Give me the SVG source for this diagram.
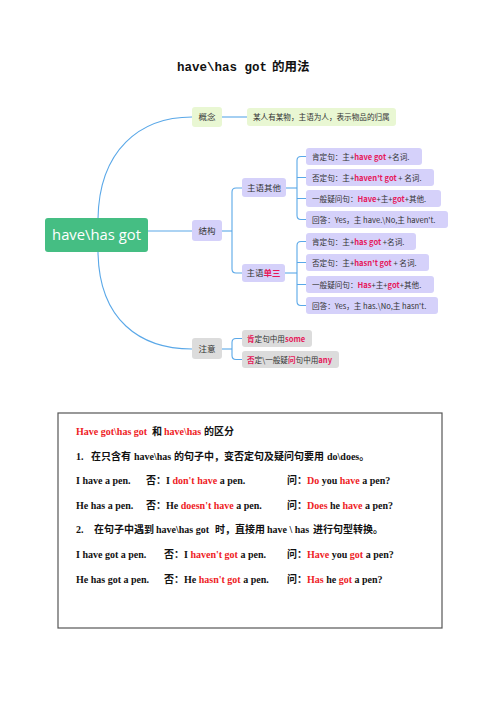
<svg xmlns="http://www.w3.org/2000/svg" width="496" height="702" viewBox="0 0 496 702">
<style>
.mm{font-family:"Noto Sans CJK SC","Noto Sans",sans-serif;fill:#333;}
.n{font-size:8.5px;}
.i{font-size:7.6px;}
.r{fill:#E6185A;font-weight:bold;}
.g{fill:#E9F7D3;}
.p{fill:#D5D1FA;}
.gr{fill:#DCDCDC;}
.con{fill:none;stroke:#5AA8E8;stroke-width:1.1;}
.bx{font-family:"Liberation Serif","Noto Sans CJK SC",serif;font-weight:bold;font-size:10px;fill:#111;}
.red{fill:#EE1C25;}
</style>
<rect width="496" height="702" fill="#fff"/>
<text x="177" y="71" font-family="Liberation Mono,'Noto Sans CJK SC',monospace" font-weight="bold" font-size="12.5" fill="#111">have\has got<tspan font-family="'Noto Sans CJK SC',sans-serif" dx="5">的用法</tspan></text>

<g id="connectors">
<path class="con" d="M98,219 C99,150 140,117 192,117"/>
<path class="con" d="M98,252 C99,320 140,349 192,349"/>
<path class="con" d="M148,231 H192"/>
<path class="con" d="M222,117 H247"/>
<path class="con" d="M222,231 H232"/>
<path class="con" d="M242,188 H236 Q232,188 232,192 V269 Q232,273 236,273 H242"/>
<path class="con" d="M286,188 H297"/>
<path class="con" d="M306,156.5 H301 Q297,156.5 297,160.5 V215.5 Q297,219.5 301,219.5 H306"/>
<path class="con" d="M297,177.5 H306 M297,198.5 H306"/>
<path class="con" d="M285,273 H297"/>
<path class="con" d="M306,241.5 H301 Q297,241.5 297,245.5 V301.5 Q297,305.5 301,305.5 H306"/>
<path class="con" d="M297,262.5 H306 M297,284.5 H306"/>
<path class="con" d="M222,349 H232"/>
<path class="con" d="M242,338.5 H236 Q232,338.5 232,342.5 V355.5 Q232,359.5 236,359.5 H242"/>
</g>

<g id="root">
<rect x="45" y="218" width="103" height="34" rx="3" fill="#45BE83"/>
<text x="96.5" y="240" text-anchor="middle" font-family="'Open Sans','Noto Sans',sans-serif" font-size="14.8" fill="#fff">have\has got</text>
</g>

<g id="gainian" class="mm">
<rect class="g" x="192" y="107" width="30" height="20" rx="3"/>
<text class="n" x="207" y="120" text-anchor="middle">概念</text>
</g>
<g id="gainian-desc" class="mm">
<rect class="g" x="247" y="108" width="149" height="18" rx="3"/>
<text class="i" x="253" y="120">某人有某物，主语为人，表示物品的归属</text>
</g>

<g id="jiegou" class="mm">
<rect class="p" x="192" y="220" width="30" height="21" rx="3"/>
<text class="n" x="207" y="233.5" text-anchor="middle">结构</text>
</g>

<g id="zhuyu-qita" class="mm">
<rect class="p" x="242" y="178" width="44" height="19" rx="3"/>
<text class="n" x="264" y="190.5" text-anchor="middle">主语其他</text>
</g>
<g id="qita-1" class="mm">
<rect class="p" x="306" y="148" width="116" height="17" rx="3"/>
<text class="i" x="312" y="159.5">肯定句：主+<tspan class="r">have got</tspan> +名词.</text>
</g>
<g id="qita-2" class="mm">
<rect class="p" x="306" y="169" width="128" height="17" rx="3"/>
<text class="i" x="312" y="180.5">否定句：主+<tspan class="r">haven't got</tspan> + 名词.</text>
</g>
<g id="qita-3" class="mm">
<rect class="p" x="306" y="190" width="135" height="17" rx="3"/>
<text class="i" x="312" y="201.5">一般疑问句：<tspan class="r">Have</tspan>+主+<tspan class="r">got</tspan>+其他.</text>
</g>
<g id="qita-4" class="mm">
<rect class="p" x="306" y="211" width="142" height="17" rx="3"/>
<text class="i" x="312" y="222.5">回答：Yes，主 have.\No,主 haven't.</text>
</g>

<g id="zhuyu-dansan" class="mm">
<rect class="p" x="242" y="264" width="43" height="18" rx="3"/>
<text class="n" x="263.5" y="276" text-anchor="middle">主语<tspan class="r">单三</tspan></text>
</g>
<g id="dansan-1" class="mm">
<rect class="p" x="306" y="233" width="110" height="17" rx="3"/>
<text class="i" x="312" y="244.5">肯定句：主+<tspan class="r">has got</tspan> +名词.</text>
</g>
<g id="dansan-2" class="mm">
<rect class="p" x="306" y="254" width="123" height="17" rx="3"/>
<text class="i" x="312" y="265.5">否定句：主+<tspan class="r">hasn't got</tspan> + 名词.</text>
</g>
<g id="dansan-3" class="mm">
<rect class="p" x="306" y="276" width="128" height="17" rx="3"/>
<text class="i" x="312" y="287.5">一般疑问句：<tspan class="r">Has</tspan>+主+<tspan class="r">got</tspan>+其他.</text>
</g>
<g id="dansan-4" class="mm">
<rect class="p" x="306" y="297" width="132" height="17" rx="3"/>
<text class="i" x="312" y="308.5">回答：Yes，主 has.\No,主 hasn't.</text>
</g>

<g id="zhuyi" class="mm">
<rect class="gr" x="192" y="338" width="30" height="21" rx="3"/>
<text class="n" x="207" y="351.5" text-anchor="middle">注意</text>
</g>
<g id="zhuyi-1" class="mm">
<rect class="gr" x="242" y="330" width="70" height="17" rx="3"/>
<text class="i" x="247" y="341.5"><tspan class="r">肯</tspan>定句中用<tspan class="r">some</tspan></text>
</g>
<g id="zhuyi-2" class="mm">
<rect class="gr" x="242" y="351" width="97" height="17" rx="3"/>
<text class="i" x="247" y="362.5"><tspan class="r">否</tspan>定\一般疑<tspan class="r">问</tspan>句中用<tspan class="r">any</tspan></text>
</g>

<g id="notes">
<rect x="58" y="413" width="384" height="215" fill="#fff" stroke="#555" stroke-width="1.2"/>
<text class="bx" y="435"><tspan x="76" class="red">Have got\has got</tspan><tspan x="152">和</tspan><tspan x="164" class="red">have\has</tspan><tspan x="204">的区分</tspan></text>
<text class="bx" y="460"><tspan x="76">1.</tspan><tspan x="91">在只含有</tspan><tspan x="134">have\has</tspan><tspan x="174">的句子中，变否定句及疑问句要用</tspan><tspan x="327">do\does。</tspan></text>
<text class="bx" y="484"><tspan x="76">I have a pen.</tspan><tspan x="146">否：I </tspan><tspan class="red">don't have</tspan><tspan> a pen.</tspan><tspan x="287">问：</tspan><tspan class="red">Do</tspan><tspan> you </tspan><tspan class="red">have</tspan><tspan> a pen?</tspan></text>
<text class="bx" y="509"><tspan x="76">He has a pen.</tspan><tspan x="146">否：He </tspan><tspan class="red">doesn't have</tspan><tspan> a pen.</tspan><tspan x="287">问：</tspan><tspan class="red">Does</tspan><tspan> he </tspan><tspan class="red">have</tspan><tspan> a pen?</tspan></text>
<text class="bx" y="533"><tspan x="76">2.</tspan><tspan x="94">在句子中遇到</tspan><tspan x="156">have\has got</tspan><tspan x="215">时，直接用</tspan><tspan x="267">have \ has</tspan><tspan x="313">进行句型转换。</tspan></text>
<text class="bx" y="558"><tspan x="76">I have got a pen.</tspan><tspan x="164">否：I </tspan><tspan class="red">haven't got</tspan><tspan> a pen.</tspan><tspan x="287">问：</tspan><tspan class="red">Have</tspan><tspan> you </tspan><tspan class="red">got</tspan><tspan> a pen?</tspan></text>
<text class="bx" y="583"><tspan x="76">He has got a pen.</tspan><tspan x="164">否：He </tspan><tspan class="red">hasn't got</tspan><tspan> a pen.</tspan><tspan x="287">问：</tspan><tspan class="red">Has</tspan><tspan> he </tspan><tspan class="red">got</tspan><tspan> a pen?</tspan></text>
</g>
</svg>
